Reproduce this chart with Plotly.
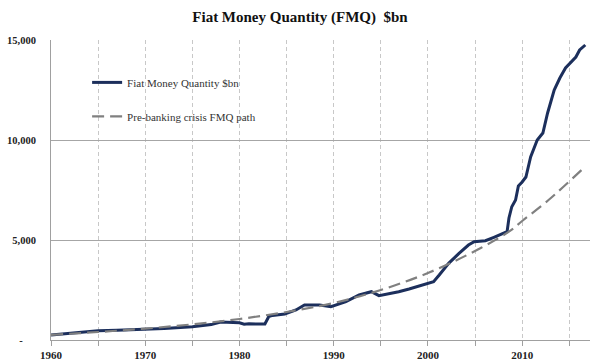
import plotly.graph_objects as go

# Fiat Money Quantity ($bn)
fmq_years = [1960.0, 1962.0, 1964.0, 1965.0, 1967.0, 1970.0, 1972.0, 1975.0, 1977.0, 1978.0,
             1979.5, 1980.0, 1980.5, 1981.0, 1982.0, 1982.7, 1983.1, 1983.5, 1984.8, 1986.0,
             1986.9, 1988.0, 1988.5, 1989.7, 1990.5, 1991.3, 1992.7, 1993.5, 1994.0, 1994.8,
             1995.9, 1996.9, 1998.0, 1999.0, 2000.6, 2001.2, 2002.2, 2003.3, 2004.3, 2004.9,
             2006.1, 2007.0, 2008.0, 2008.4, 2008.6, 2008.9, 2009.3, 2009.6, 2010.0, 2010.4,
             2010.9, 2011.3, 2011.6, 2012.2, 2012.7, 2013.4, 2014.0, 2014.6, 2015.2, 2015.7,
             2016.1, 2016.7]
fmq_values = [250, 330, 420, 465, 490, 535, 580, 665, 770, 900,
              880, 865, 790, 810, 800, 800, 1165, 1230, 1300, 1500,
              1750, 1740, 1750, 1665, 1780, 1915, 2250, 2360, 2415, 2215,
              2300, 2415, 2550, 2700, 2915, 3250, 3835, 4335, 4750, 4915,
              4965, 5135, 5335, 5415, 6100, 6665, 7000, 7700, 7900, 8150,
              9150, 9650, 10000, 10350, 11350, 12500, 13100, 13600, 13900, 14150,
              14500, 14750]

# Pre-banking crisis FMQ path ($bn)
path_years = [1960, 1965, 1970, 1975, 1980, 1985, 1990, 1995, 2000, 2005, 2008.6, 2010, 2012.8, 2016.3]
path_values = [260, 400, 570, 780, 1050, 1400, 1850, 2500, 3350, 4450, 5415, 5950, 7000, 8500]

x_tick_vals = [1960, 1970, 1980, 1990, 2000, 2010]
x_tick_text = ["1960", "1970", "1980", "1990", "2000", "2010"]
y_tick_vals = [0, 5000, 10000, 15000]
y_tick_text = ["-\u00a0\u00a0\u00a0\u00a0\u00a0", "5,000", "10,000", "15,000"]

SERIF = "Liberation Serif, Times New Roman, serif"

fig = go.Figure()
fig.add_trace(go.Scatter(
    x=fmq_years, y=fmq_values, mode="lines", name="Fiat Money Quantity $bn",
    line=dict(color="#1c2f5c", width=3), legendgroup="a"))
fig.add_trace(go.Scatter(
    x=path_years, y=path_values, mode="lines", name="Pre-banking crisis FMQ path",
    line=dict(color="#808080", width=2.2, dash="12px,6px", shape="spline"), legendgroup="b"))

fig.update_layout(
    width=600, height=363,
    margin=dict(l=51, r=10, t=40, b=23),
    paper_bgcolor="white", plot_bgcolor="white",
    title=dict(text="Fiat Money Quantity (FMQ) \u00a0$bn", x=0.5, xanchor="center",
               y=1 - 17 / 363, yanchor="middle",
               font=dict(family=SERIF, size=15, color="#111111", weight="bold")),
    font=dict(family=SERIF, color="#222222"),
    legend=dict(x=0.067, y=0.907, xanchor="left", yanchor="top",
                bgcolor="rgba(0,0,0,0)", borderwidth=0,
                font=dict(family=SERIF, size=11, color="#333333"),
                tracegroupgap=15, traceorder="grouped", itemwidth=30),
    showlegend=True,
)
fig.update_xaxes(
    range=[1960, 2017.2], tickvals=x_tick_vals, ticktext=x_tick_text,
    showline=True, linecolor="#a0a0a0", linewidth=1,
    ticks="outside", ticklen=5, tickcolor="#a0a0a0",
    showgrid=True, gridcolor="#c8c8c8", griddash="4px,3px", gridwidth=1,
    minor=dict(tickvals=[1965, 1975, 1985, 1995, 2005, 2015], ticks="outside", ticklen=5,
               tickcolor="#a0a0a0", showgrid=True, gridcolor="#c8c8c8",
               griddash="4px,3px", gridwidth=1),
    tickfont=dict(family=SERIF, size=11, color="#222222", weight="bold"),
    zeroline=False, automargin=False,
)
fig.update_yaxes(
    range=[0, 15000], tickvals=y_tick_vals, ticktext=y_tick_text,
    showline=True, linecolor="#a0a0a0", linewidth=1,
    showgrid=True, gridcolor="#a6a6a6", gridwidth=1,
    ticks="", ticklabelstandoff=12,
    tickfont=dict(family=SERIF, size=10.5, color="#222222", weight="bold"),
    zeroline=False, automargin=False,
)

fig.write_html(
    "out.html",
    config={"displayModeBar": False},
    post_script="document.body.style.margin='0';document.body.style.padding='0';",
)
